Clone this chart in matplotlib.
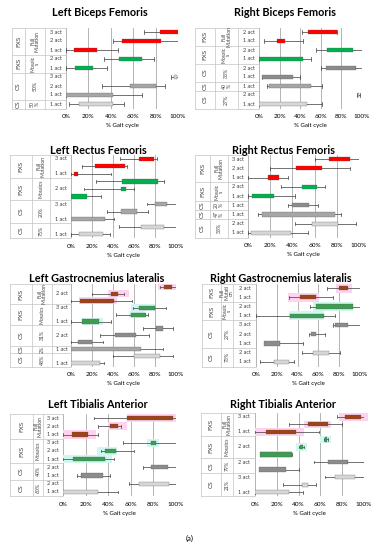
import matplotlib
matplotlib.use("Agg")
import matplotlib.pyplot as plt
from matplotlib.lines import Line2D

W, H = 376, 550

COLORS = {
    "r": "#ff0000",  # FXS full mutation (upper panels)
    "g": "#00b050",  # FXS mosaics (upper panels)
    "b": "#a0421a",  # FXS full mutation (lower panels)
    "G": "#3f9c55",  # FXS mosaics (lower panels)
    "d": "#8c8c8c",
    "m": "#a6a6a6",
    "l": "#d6d6d6",
}

# ---------------------------------------------------------------- data (% gait cycle)
# Left Biceps Femoris
lbf_labels = ["3 act", "2 act", "1 act", "2 act", "1 act", "3 act", "2 act", "1 act", "1 act"]
lbf_lo = [84, 50, 7, 47, 8, 96, 57, 0, 12]
lbf_hi = [100, 85, 28, 68, 24, 99, 80, 42, 42]
lbf_wl = [70, 42, 0, 34, 0, 94, 32, 0, 3]
lbf_wr = [100, 100, 46, 79, 37, 100, 88, 68, 52]
lbf_col = list("rrrgglmml")
lbf_groups = [("FXS", "Full\nMutation", 3), ("FXS", "Mosaic\ns", 2), ("CS", "50%", 3), ("CS", "50\n%", 1)]

# Right Biceps Femoris
rbf_labels = ["2 act", "1 act", "2 act", "1 act", "2 act", "1 act", "1 act", "2 act", "1 act"]
rbf_lo = [48, 17, 66, 0, 65, 3, 10, 96, 0]
rbf_hi = [76, 25, 91, 43, 94, 33, 50, 97, 47]
rbf_wl = [42, 5, 55, 0, 60, 3, 8, 95, 0]
rbf_wr = [76, 43, 100, 50, 100, 40, 61, 98, 61]
rbf_col = list("rrggddmll")
rbf_groups = [("FXS", "Full\nMutation", 2), ("FXS", "Mosaic\ns", 2), ("CS", "33%", 2),
              ("CS", "40\n%", 1), ("CS", "27%", 2)]

# Left Rectus Femoris
lrf_labels = ["3 act", "", "1 act", "", "2 act", "", "3 act", "", "1 act", "", "1 act"]
lrf_lo = [65, 23, 3, 49, 48, 0, 80, 48, 0, 67, 8]
lrf_hi = [79, 51, 7, 83, 52, 15, 91, 63, 32, 89, 30]
lrf_wl = [47, 10, 0, 24, 12, 0, 72, 34, 0, 46, 0]
lrf_wr = [82, 53, 38, 89, 60, 29, 100, 73, 41, 100, 37]
lrf_col = list("rrrgggmmmll")
lrf_groups = [("FXS", "Full\nMutation", 3), ("FXS", "Mosaics", 3), ("CS", "20%", 3), ("CS", "75%", 2)]

# Right Rectus Femoris
rrf_labels = ["3 act", "2 act", "1 act", "2 act", "1 act", "1 act", "1 act", "2 act", "1 act"]
rrf_lo = [73, 43, 18, 49, 4, 40, 13, 58, 3]
rrf_hi = [92, 67, 28, 62, 23, 55, 78, 81, 39]
rrf_wl = [60, 20, 0, 30, 0, 36, 9, 42, 0]
rrf_wr = [100, 92, 36, 69, 42, 63, 84, 97, 54]
rrf_col = list("rrrggdmll")
rrf_groups = [("FXS", "Full\nMutation", 3), ("FXS", "Mosaic\ns", 2), ("CS", "20\n%", 1),
              ("CS", "47\n%", 1), ("CS", "33%", 2)]

# Left Gastrocnemius lateralis
lgl_labels = ["", "2 act", "", "3 act", "", "1 act", "", "2 act", "", "1 act", "", "1 act"]
lgl_lo = [89, 38, 9, 65, 57, 10, 81, 42, 7, 0, 60, 0]
lgl_hi = [96, 45, 41, 80, 71, 27, 88, 62, 20, 67, 85, 28]
lgl_wl = [85, 20, 0, 59, 43, 0, 69, 28, 0, 0, 40, 0]
lgl_wr = [100, 50, 58, 90, 73, 38, 97, 74, 30, 88, 97, 31]
lgl_col = list("bbbGGGdddmll")
lgl_hl_lo = [83, 35, 8, 57, 55, 10]
lgl_hl_hi = [100, 55, 44, 80, 70, 30]
lgl_groups = [("FXS", "Full\nMutation", 3), ("FXS", "Mosaics", 3), ("CS", "31%", 3),
              ("CS", "2%", 1), ("CS", "48%", 2)]

# Right Gastrocnemius lateralis
rgl_labels = ["2 act", "1 act", "2 act", "1 act", "3 act", "2 act", "1 act", "2 act", "1 act"]
rgl_lo = [80, 42, 58, 33, 76, 53, 8, 55, 17]
rgl_hi = [88, 58, 93, 65, 88, 58, 23, 70, 32]
rgl_wl = [68, 32, 52, 0, 74, 51, 8, 44, 4]
rgl_wr = [100, 74, 100, 76, 100, 66, 45, 81, 37]
rgl_col = list("bbGGdddll")
rgl_hl_lo = [77, 31, 55, 32]
rgl_hl_hi = [92, 61, 93, 65]
rgl_groups = [("FXS", "Full\nMutati\non", 2), ("FXS", "Mosaic\ns", 2), ("CS", "27%", 3), ("CS", "73%", 2)]

# Left Tibialis Anterior
lta_labels = ["3 act", "2 act", "1 act", "3 act", "2 act", "1 act", "2 act", "1 act", "2 act", "1 act"]
lta_lo = [57, 42, 8, 78, 37, 9, 78, 16, 67, 0]
lta_hi = [97, 49, 22, 82, 47, 37, 93, 35, 94, 31]
lta_wl = [27, 31, 0, 53, 34, 0, 71, 12, 58, 0]
lta_wr = [100, 51, 31, 100, 63, 45, 100, 42, 100, 49]
lta_col = list("bbbGGGddll")
lta_hl_lo = [57, 40, 0, 74, 30, 0]
lta_hl_hi = [100, 57, 29, 85, 48, 43]
lta_groups = [("FXS", "Full\nMutation", 3), ("FXS", "Mosaics", 3), ("CS", "40%", 2), ("CS", "60%", 2)]

# Right Tibialis Anterior
rta_labels = ["3 act", "", "1 act", "", "2 act", "", "2 act", "", "3 act", "", "1 act"]
rta_lo = [83, 49, 10, 64, 41, 5, 67, 4, 73, 43, 0]
rta_hi = [97, 67, 38, 66, 44, 34, 85, 28, 92, 49, 31]
rta_wl = [75, 31, 0, 63, 40, 5, 54, 4, 64, 26, 0]
rta_wr = [100, 80, 59, 67, 45, 34, 100, 40, 100, 56, 44]
rta_col = list("bbbGGGddlll")
rta_hl_lo = [77, 45, 0, 60, 38, 5]
rta_hl_hi = [104, 70, 45, 70, 48, 34]
rta_groups = [("FXS", "Full\nMutation", 3), ("FXS", "Mosaics", 3), ("CS", "79%", 2), ("CS", "21%", 3)]


fig = plt.figure(figsize=(W / 100, H / 100), dpi=100)
plt.rcParams["font.family"] = ["Lato", "DejaVu Sans"]


def fx(px):
    return px / W


def fy(py):
    return 1 - py / H


def panel(title, tcx, ty, box, cols, labels, lo, hi, wl, wr, colors, groups,
          hl_lo=None, hl_hi=None):
    x0, x1, y0, y1 = box
    tl, c1, c2 = cols
    n = len(labels)
    rh = (y1 - y0) / n
    bh = min(4.2 / rh, 0.6)  # bar thickness ~4 px
    fig.text(fx(tcx), fy(ty), title, ha="center", va="center", fontsize=7.8,
             fontweight="bold")
    ax = fig.add_axes([fx(x0), fy(y1), fx(x1) - fx(x0), fy(y0) - fy(y1)])
    ys = list(range(n))
    for v in range(0, 101, 20):
        ax.axvline(v, color="#a8a8a8", lw=0.6, zorder=0)
    if hl_lo is not None:
        for i, (a, b) in enumerate(zip(hl_lo, hl_hi)):
            fc = "#ffd3ee" if colors[i] == "b" else "#cff7ef"
            ax.barh(i, b - a, left=a, height=1.0, color=fc, lw=0, zorder=1,
                    clip_on=False)
    for i in ys:
        ax.plot([wl[i], wr[i]], [i, i], color="#3a3a3a", lw=0.5, zorder=2,
                solid_capstyle="butt")
        for e in (wl[i], wr[i]):
            ax.plot([e, e], [i - 0.17, i + 0.17], color="#3a3a3a", lw=0.5, zorder=2)
    ax.barh(ys, [h - l for l, h in zip(lo, hi)], left=lo, height=bh,
            color=[COLORS[c] for c in colors], edgecolor="#555555", lw=0.2, zorder=3)
    ax.set_xlim(0, 100)
    ax.set_ylim(n - 0.5, -0.5)
    ax.set_yticks([])
    ax.set_xticks(range(0, 101, 20))
    ax.set_xticklabels([f"{v}%" for v in range(0, 101, 20)], fontsize=4.6)
    ax.tick_params(axis="x", length=0, pad=4)
    ax.set_xlabel("% Gait cycle", fontsize=4.4, labelpad=3)
    for s in ax.spines.values():
        s.set_visible(False)

    # category table on the left
    lc = "#c4c4c4"
    for x in (tl, c1, c2):
        fig.add_artist(Line2D([fx(x), fx(x)], [fy(y0), fy(y1)], color=lc, lw=0.5))
    k = 0
    fig.add_artist(Line2D([fx(tl), fx(x0)], [fy(y0), fy(y0)], color=lc, lw=0.5))
    for name, sub, cnt in groups:
        ya = y0 + k * rh
        yb = y0 + (k + cnt) * rh
        fig.add_artist(Line2D([fx(tl), fx(x0)], [fy(yb), fy(yb)], color=lc, lw=0.5))
        ym = (ya + yb) / 2
        fig.text(fx((tl + c1) / 2), fy(ym), name, rotation=90, ha="center",
                 va="center", fontsize=4.6, color="#404040")
        fig.text(fx((c1 + c2) / 2), fy(ym), sub, rotation=90, ha="center",
                 va="center", fontsize=3.7, color="#404040", linespacing=0.9)
        k += cnt
    for i, lab in enumerate(labels):
        fig.text(fx((c2 + x0) / 2), fy(y0 + (i + 0.5) * rh), lab, ha="center",
                 va="center", fontsize=4.0, color="#404040")
    return ax


panel("Left Biceps Femoris", 100, 13, (66, 178, 27.5, 108.5), (12, 25, 45),
      lbf_labels, lbf_lo, lbf_hi, lbf_wl, lbf_wr, lbf_col, lbf_groups)
panel("Right Biceps Femoris", 285, 13, (259, 362, 27.5, 108.5), (195, 215, 238),
      rbf_labels, rbf_lo, rbf_hi, rbf_wl, rbf_wr, rbf_col, rbf_groups)
panel("Left Rectus Femoris", 98, 150, (71, 176, 155, 238), (10, 32, 50),
      lrf_labels, lrf_lo, lrf_hi, lrf_wl, lrf_wr, lrf_col, lrf_groups)
panel("Right Rectus Femoris", 283, 150, (248, 359, 154.5, 237.5), (195, 210, 228),
      rrf_labels, rrf_lo, rrf_hi, rrf_wl, rrf_wr, rrf_col, rrf_groups)
panel("Left Gastrocnemius lateralis", 97, 278, (71, 176, 283.5, 366.5), (10, 32, 52),
      lgl_labels, lgl_lo, lgl_hi, lgl_wl, lgl_wr, lgl_col, lgl_groups,
      lgl_hl_lo, lgl_hl_hi)
panel("Right Gastrocnemius lateralis", 281, 278, (256, 360, 283.5, 366.5), (202, 221, 233),
      rgl_labels, rgl_lo, rgl_hi, rgl_wl, rgl_wr, rgl_col, rgl_groups,
      rgl_hl_lo, rgl_hl_hi)
panel("Left Tibialis Anterior", 98, 405, (63, 176, 414, 496), (10, 33, 43),
      lta_labels, lta_lo, lta_hi, lta_wl, lta_wr, lta_col, lta_groups,
      lta_hl_lo, lta_hl_hi)
panel("Right Tibialis Anterior", 283, 405, (255, 364, 413, 496), (201, 221, 233),
      rta_labels, rta_lo, rta_hi, rta_wl, rta_wr, rta_col, rta_groups,
      rta_hl_lo, rta_hl_hi)

fig.text(fx(190), fy(538), "(a)", ha="center", va="center", fontsize=5.5)

fig.savefig("out.png", dpi=100, facecolor="white")
